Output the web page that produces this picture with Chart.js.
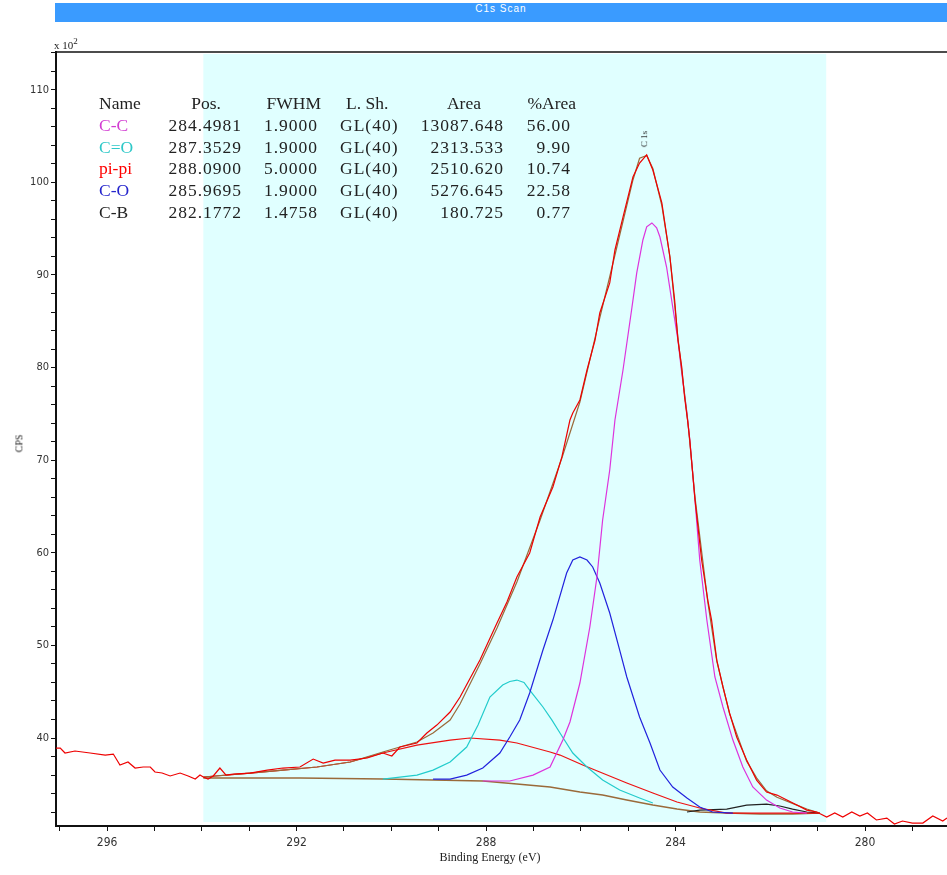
<!DOCTYPE html>
<html>
<head>
<meta charset="UTF-8">
<title>C1s Scan</title>
<script src="https://cdn.jsdelivr.net/npm/chart.js"></script>
<style>
  body { margin: 0; background: #fff; }
  #wrap { position: relative; width: 947px; height: 875px; overflow: hidden; }
  #plot { position: absolute; left: 0; top: 0; }
  #titleBar {
    position: absolute; left: 55px; top: 3px; width: 892px; height: 19px;
    background: #3a9bff; color: #fff; text-align: center; line-height: 19px;
    font: 10px "Liberation Sans Narrow", "Liberation Sans", sans-serif; letter-spacing: 1px;
  }
  .lbl { position: absolute; font-family: "Liberation Serif", serif; color: #222; white-space: nowrap; }
  #mult { left: 54px; top: 36px; font-size: 11px; }
  #mult sup { font-size: 9px; }
  #cps { left: 10px; top: 438px; font-size: 10px; transform: rotate(-90deg); }
  #xTitle { left: 0; width: 980px; top: 850px; font-size: 12px; text-align: center; }
  #peakLbl { left: 636px; top: 134px; font-size: 9px; transform: rotate(-90deg); }
  .cell { position: absolute; font: 17.5px "Liberation Serif", serif; color: #222; line-height: 22px; white-space: nowrap; }
  .val { letter-spacing: 1px; }
</style>
</head>
<body>
<div id="wrap">
  <canvas id="plot" width="947" height="875"></canvas>
  <div id="titleBar">C1s Scan</div>
  <div class="lbl" id="mult">x 10<sup>2</sup></div>
  <div class="lbl" id="cps">CPS</div>
  <div class="lbl" id="xTitle">Binding Energy (eV)</div>
  <div class="lbl" id="peakLbl">C 1s</div>
  <div id="table"></div>
</div>

<script>
// peak table
const compNames = ['C-C', 'C=O', 'pi-pi', 'C-O', 'C-B'];
const compPos = ['284.4981', '287.3529', '288.0900', '285.9695', '282.1772'];
const compFwhm = ['1.9000', '1.9000', '5.0000', '1.9000', '1.4758'];
const compShape = ['GL(40)', 'GL(40)', 'GL(40)', 'GL(40)', 'GL(40)'];
const compArea = ['13087.648', '2313.533', '2510.620', '5276.645', '180.725'];
const compPct = ['56.00', '9.90', '10.74', '22.58', '0.77'];

// fitting region (eV)
const regionEV = [293.97, 280.82];

// raw spectrum
const rawEV = [297.08, 296.99, 296.89, 296.68, 296.36, 296.04, 295.87, 295.73, 295.56, 295.41, 295.24, 295.09,
  294.99, 294.84, 294.67, 294.46, 294.29, 294.14, 294.04, 293.97, 293.87, 293.76, 293.62, 293.49, 293.34, 292.98,
  292.62, 292.29, 291.93, 291.65, 291.44, 291.19, 290.87, 290.51, 290.18, 289.99, 289.82, 289.46, 289.25, 289.04,
  288.76, 288.55, 288.13, 287.77, 287.56, 287.35, 287.08, 286.86, 286.59, 286.40, 286.23, 286.17, 286.02, 285.87,
  285.70, 285.60, 285.39, 285.28, 285.11, 284.90, 284.76, 284.61, 284.48, 284.29, 284.12, 284.02, 283.95, 283.87,
  283.81, 283.74, 283.70, 283.59, 283.45, 283.32, 283.24, 283.13, 283.00, 282.86, 282.71, 282.50, 282.29, 282.08,
  281.86, 281.65, 281.44, 281.23, 281.02, 280.81, 280.64, 280.47, 280.28, 280.11, 279.95, 279.76, 279.54, 279.38,
  279.21, 279.00, 278.78, 278.57, 278.36, 278.27];
const rawCPS = [38.92, 38.92, 38.38, 38.60, 38.38, 38.16, 38.27, 37.08, 37.41, 36.76, 36.87, 36.87,
  36.33, 36.22, 35.90, 36.22, 35.90, 35.57, 36.00, 35.79, 35.57, 35.90, 36.76, 36.00, 36.11, 36.22,
  36.54, 36.76, 36.87, 37.73, 37.30, 37.62, 37.62, 37.84, 38.38, 38.06, 39.03, 39.46, 40.54, 41.40,
  42.81, 44.43, 48.42, 52.42, 54.69, 57.39, 59.98, 63.87, 67.11, 70.35, 74.34, 75.10, 76.50, 79.74,
  82.98, 85.90, 89.14, 92.70, 96.26, 100.58, 102.09, 102.96, 101.34, 97.78, 91.94, 87.30, 82.98, 80.06,
  76.83, 74.02, 72.18, 65.70, 59.22, 54.90, 52.74, 48.42, 45.51, 42.70, 40.11, 37.62, 35.46, 34.17,
  33.84, 33.30, 32.76, 32.22, 32.01, 31.47, 31.90, 31.47, 32.01, 31.58, 31.90, 31.15, 31.36, 30.71,
  31.04, 30.82, 30.82, 31.58, 31.04, 31.36];

// fitted envelope
const envEV = [293.97, 292.98, 292.29, 291.57, 290.87, 290.18, 289.46, 289.12, 288.76, 288.55, 288.13, 287.77,
  287.35, 286.86, 286.40, 286.02, 285.60, 285.28, 284.90, 284.76, 284.61, 284.48, 284.29, 284.12, 283.95, 283.74,
  283.59, 283.32, 283.13, 282.86, 282.50, 282.29, 282.08, 281.86, 281.44, 281.23, 280.96];
const envCPS = [35.79, 36.22, 36.54, 36.87, 37.41, 38.49, 39.57, 40.54, 41.94, 43.67, 47.99, 51.88,
  56.85, 63.54, 70.24, 76.28, 85.36, 92.16, 100.26, 102.60, 102.90, 101.50, 97.50, 92.00, 83.20, 74.10,
  66.00, 54.70, 48.30, 42.60, 37.50, 35.70, 34.30, 33.60, 32.76, 32.33, 31.90];

// Shirley background
const bgEV = [293.97, 291.93, 290.18, 289.12, 288.07, 287.35, 286.65, 286.02, 285.54, 285.03, 284.48, 283.97,
  283.49, 282.92, 282.22, 281.53, 280.96];
const bgCPS = [35.68, 35.68, 35.57, 35.46, 35.36, 35.03, 34.71, 34.17, 33.84, 33.30, 32.76, 32.33,
  32.01, 31.90, 31.79, 31.79, 31.90];

// components
const ccEV = [288.07, 287.50, 287.01, 286.65, 286.38, 286.23, 286.02, 285.81, 285.66, 285.54, 285.39, 285.28,
  285.11, 284.92, 284.82, 284.69, 284.61, 284.50, 284.40, 284.33, 284.19, 284.06, 283.95, 283.87, 283.76, 283.70,
  283.59, 283.49, 283.34, 283.17, 283.00, 282.79, 282.58, 282.37, 282.08, 281.80, 281.53, 281.23];
const ccCPS = [35.36, 35.36, 36.00, 36.87, 39.78, 41.73, 45.94, 51.99, 57.39, 63.54, 68.94, 74.34,
  79.74, 86.54, 90.22, 93.78, 95.20, 95.62, 95.10, 94.10, 90.86, 86.54, 82.98, 79.42, 75.10, 72.18,
  65.70, 59.22, 52.74, 46.59, 43.35, 39.78, 36.87, 34.71, 33.30, 32.44, 32.01, 31.90];

const coEV = [290.18, 289.46, 289.12, 288.76, 288.41, 288.17, 287.92, 287.65, 287.50, 287.35, 287.20, 287.08,
  286.80, 286.61, 286.44, 286.17, 285.87, 285.54, 285.18, 284.76, 284.48];
const coCPS = [35.57, 36.00, 36.54, 37.41, 39.03, 41.40, 44.43, 45.72, 46.10, 46.26, 46.00, 45.18,
  43.35, 41.94, 40.54, 38.38, 36.87, 35.46, 34.38, 33.52, 32.98];

const pipiEV = [293.97, 292.98, 292.29, 291.57, 290.87, 290.18, 289.46, 288.76, 288.34, 287.71, 287.35, 286.65,
  286.44, 285.96, 285.60, 285.03, 284.48, 283.97, 283.49, 282.92, 282.22, 280.96];
const pipiCPS = [35.79, 36.22, 36.54, 36.87, 37.41, 38.38, 39.24, 39.78, 40.00, 39.78, 39.46, 38.49,
  38.16, 37.08, 36.33, 35.14, 34.06, 33.09, 32.44, 31.90, 31.90, 31.90];

const c_oEV = [289.12, 288.76, 288.41, 288.07, 287.71, 287.50, 287.29, 287.08, 286.80, 286.59, 286.30, 286.17,
  286.02, 285.87, 285.75, 285.60, 285.39, 285.18, 285.03, 284.76, 284.54, 284.33, 284.06, 283.76, 283.49, 283.22,
  282.79];
const c_oCPS = [35.57, 35.57, 36.00, 36.76, 38.38, 40.11, 41.94, 44.86, 49.50, 52.74, 57.82, 59.22,
  59.55, 59.22, 58.47, 56.74, 53.50, 49.50, 46.59, 42.27, 39.46, 36.54, 34.71, 33.52, 32.55, 32.01,
  31.90];

const cbEV = [283.76, 283.49, 282.92, 282.50, 282.08, 281.80, 281.53, 281.23, 280.96];
const cbCPS = [32.01, 32.22, 32.33, 32.76, 32.87, 32.66, 32.33, 32.01, 31.90];

const nameColors = ['#d23cd2', '#2ec8c8', '#ff0000', '#2525cc', '#222222'];

// build the peak table
const tableDiv = document.getElementById('table');
const columns = [
  { head: 'Name', vals: compNames, left: 99, headLeft: 99 },
  { head: 'Pos.', vals: compPos, right: 242, headRight: 221 },
  { head: 'FWHM', vals: compFwhm, right: 318, headRight: 321 },
  { head: 'L. Sh.', vals: compShape, left: 340, headLeft: 346 },
  { head: 'Area', vals: compArea, right: 504, headRight: 481 },
  { head: '%Area', vals: compPct, right: 571, headRight: 576 }
];
const rowTop = [92, 114, 136, 157, 179, 201];
columns.forEach((col, ci) => {
  const h = document.createElement('div');
  h.className = 'cell';
  h.textContent = col.head;
  h.style.top = rowTop[0] + 'px';
  if (col.headLeft !== undefined) h.style.left = col.headLeft + 'px';
  else h.style.right = (947 - col.headRight) + 'px';
  tableDiv.appendChild(h);
  col.vals.forEach((v, i) => {
    const c = document.createElement('div');
    c.className = ci === 0 ? 'cell' : 'cell val';
    c.textContent = v;
    c.style.top = rowTop[i + 1] + 'px';
    if (ci === 0) c.style.color = nameColors[i];
    if (col.left !== undefined) c.style.left = col.left + 'px';
    else c.style.right = (947 - col.right) + 'px';
    tableDiv.appendChild(c);
  });
});

function pts(xs, ys) {
  return xs.map((x, i) => ({ x: x, y: ys[i] }));
}

function line(label, xs, ys, color, order, width) {
  return {
    label: label,
    data: pts(xs, ys),
    borderColor: color,
    borderWidth: width || 1.2,
    pointRadius: 0,
    tension: 0,
    fill: false,
    order: order
  };
}

// light cyan fit region + top frame line
const regionPlugin = {
  id: 'region',
  beforeDatasetsDraw(chart) {
    const { ctx, chartArea, scales } = chart;
    const x1 = scales.x.getPixelForValue(regionEV[0]);
    const x2 = scales.x.getPixelForValue(regionEV[1]);
    ctx.save();
    ctx.fillStyle = '#e0ffff';
    ctx.fillRect(x1, chartArea.top + 2, x2 - x1, chartArea.bottom - chartArea.top - 6);
    ctx.restore();
  },
  afterDraw(chart) {
    const { ctx, chartArea } = chart;
    ctx.save();
    ctx.strokeStyle = '#111';
    ctx.lineWidth = 1.5;
    ctx.beginPath();
    ctx.moveTo(chartArea.left - 1, chartArea.top);
    ctx.lineTo(chartArea.right, chartArea.top);
    ctx.stroke();
    ctx.restore();
  }
};

const tickFont = { family: '"Liberation Sans Narrow", "DejaVu Sans Condensed", "Liberation Sans", sans-serif', size: 11 };

new Chart(document.getElementById('plot'), {
  type: 'line',
  data: {
    datasets: [
      line('Raw', rawEV, rawCPS, '#ee0000', 0),
      line('Envelope', envEV, envCPS, '#9a6a3a', 1),
      line('C-C', ccEV, ccCPS, '#dd33dd', 2),
      line('C-O', c_oEV, c_oCPS, '#2222dd', 3),
      line('C=O', coEV, coCPS, '#22cccc', 4),
      line('pi-pi', pipiEV, pipiCPS, '#ee1111', 5),
      line('C-B', cbEV, cbCPS, '#222222', 6),
      line('Background', bgEV, bgCPS, '#9a6a3a', 7, 1.5)
    ]
  },
  options: {
    responsive: false,
    animation: false,
    layout: { padding: { top: 52, left: 0, right: 0, bottom: 0 } },
    plugins: { legend: { display: false }, tooltip: { enabled: false } },
    scales: {
      x: {
        type: 'linear',
        reverse: true,
        min: 278.27,
        max: 297.08,
        afterFit: s => { s.height = 49; },
        border: { color: '#111', width: 2 },
        grid: { drawOnChartArea: false, tickLength: 5, tickColor: '#111' },
        ticks: {
          stepSize: 1,
          includeBounds: false,
          autoSkip: false,
          maxRotation: 0,
          padding: 5,
          color: '#333',
          font: { family: tickFont.family, size: 12 },
          callback: v => (Math.round(v) % 4 === 0 ? String(Math.round(v)) : '')
        }
      },
      y: {
        min: 30.5,
        max: 114.08,
        afterFit: s => { s.width = 56; },
        border: { color: '#111', width: 2 },
        grid: { drawOnChartArea: false, tickLength: 5, tickColor: '#111' },
        ticks: {
          stepSize: 2,
          includeBounds: false,
          autoSkip: false,
          padding: 2,
          color: '#333',
          font: tickFont,
          callback: v => (Math.round(v) % 10 === 0 ? String(Math.round(v)) : '')
        }
      }
    }
  },
  plugins: [regionPlugin]
});
</script>
</body>
</html>
